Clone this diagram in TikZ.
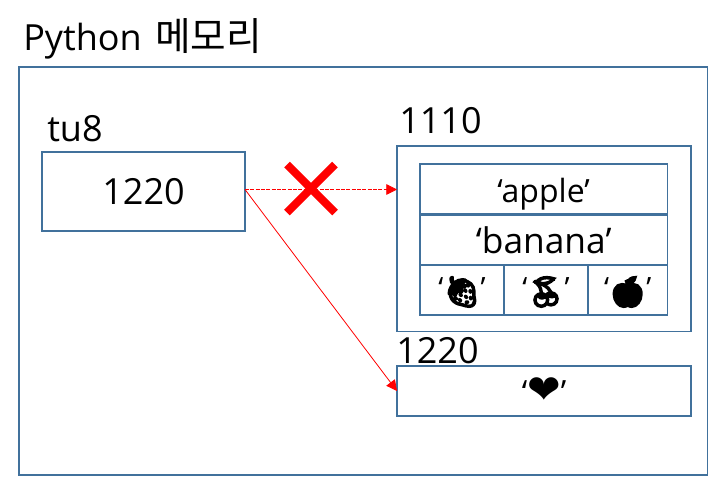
\documentclass[tikz,border=0pt]{standalone}
\usepackage{fontspec}
\setmainfont{Open Sans}
\newfontfamily\krfont{Noto Sans CJK KR}
\newfontfamily\emojifont[FakeBold=8]{Noto Emoji}
\newfontfamily\heartfont{DejaVu Sans}
\usetikzlibrary{arrows.meta}
\definecolor{boxblue}{HTML}{41719C}
\newcommand{\fruiticon}[1]{\raisebox{-3pt}{\emojifont\fontsize{22}{24}\selectfont #1}}
\begin{document}
\begin{tikzpicture}[
    x=0.75pt, y=-0.75pt,
    mem_box/.style={rectangle, draw=boxblue, line width=1.2pt, inner sep=0pt, outer sep=0pt, anchor=north west, font=\fontsize{24}{28}\selectfont},
    cell_box/.style={mem_box, minimum height=37.5pt, text height=20pt, text depth=0pt},
    icon_box/.style={cell_box, font=\fontsize{22}{28}\selectfont, text height=12pt},
    label_text/.style={inner sep=0pt, anchor=base west, font=\fontsize{27}{30}\selectfont},
    arrow/.style={-{Stealth[length=8pt,width=8pt,inset=0pt]}, red, line width=0.6pt}
]
    \useasboundingbox (0,0) rectangle (708,476);

    % Nodes
    \node[mem_box, minimum width=516.75pt, minimum height=306pt] (memory) at (19,67) {};
    \node[label_text] (title) at (23,50) {Python\hspace{0.12em} {\krfont\fontsize{29}{30}\selectfont 메모리}};

    \node[mem_box, minimum width=152.25pt, minimum height=59.25pt, font=\fontsize{27}{30}\selectfont] (tu8box) at (42,152) {1220};
    \node[label_text] (tu8) at (47,141) {tu8};

    \node[mem_box, minimum width=220.5pt, minimum height=139pt] (tuple) at (397,146) {};
    \node[label_text] (addr1110) at (399,133) {1110};
    \node[cell_box, minimum width=185.5pt] (apple) at (420,164) {‘apple’};
    \node[cell_box, minimum width=185.5pt, font=\fontsize{26.5}{28}\selectfont] (banana) at (420,215) {‘banana’};
    \node[icon_box, minimum width=63pt] (berry) at (420,265) {‘\fruiticon{🍓}’};
    \node[icon_box, minimum width=63pt] (cherry) at (504,265) {‘\fruiticon{🍒}’};
    \node[icon_box, minimum width=59.5pt] (fruit) at (588,265) {‘\fruiticon{🍎}’};

    \node[mem_box, minimum width=220.5pt, minimum height=37.5pt] (heart) at (397,366) {‘{\heartfont\fontsize{30}{30}\selectfont ❤}’};
    \node[label_text] (addr1220) at (396,363) {1220};

    \coordinate (cross) at (311,188.5);

    % Arrows
    \draw[arrow, dashed, dash pattern=on 3pt off 1pt] ([yshift=1.5pt]tu8box.east) -- ([yshift=1.5pt]tuple.west |- tu8box.east);
    \draw[arrow] ([yshift=1.5pt]tu8box.east) -- (heart.west);

    % Cross
    \draw[red, line width=6pt] ([shift={(-24,-24)}]cross) -- ([shift={(24,24)}]cross);
    \draw[red, line width=6pt] ([shift={(-24,24)}]cross) -- ([shift={(24,-24)}]cross);
\end{tikzpicture}
\end{document}
